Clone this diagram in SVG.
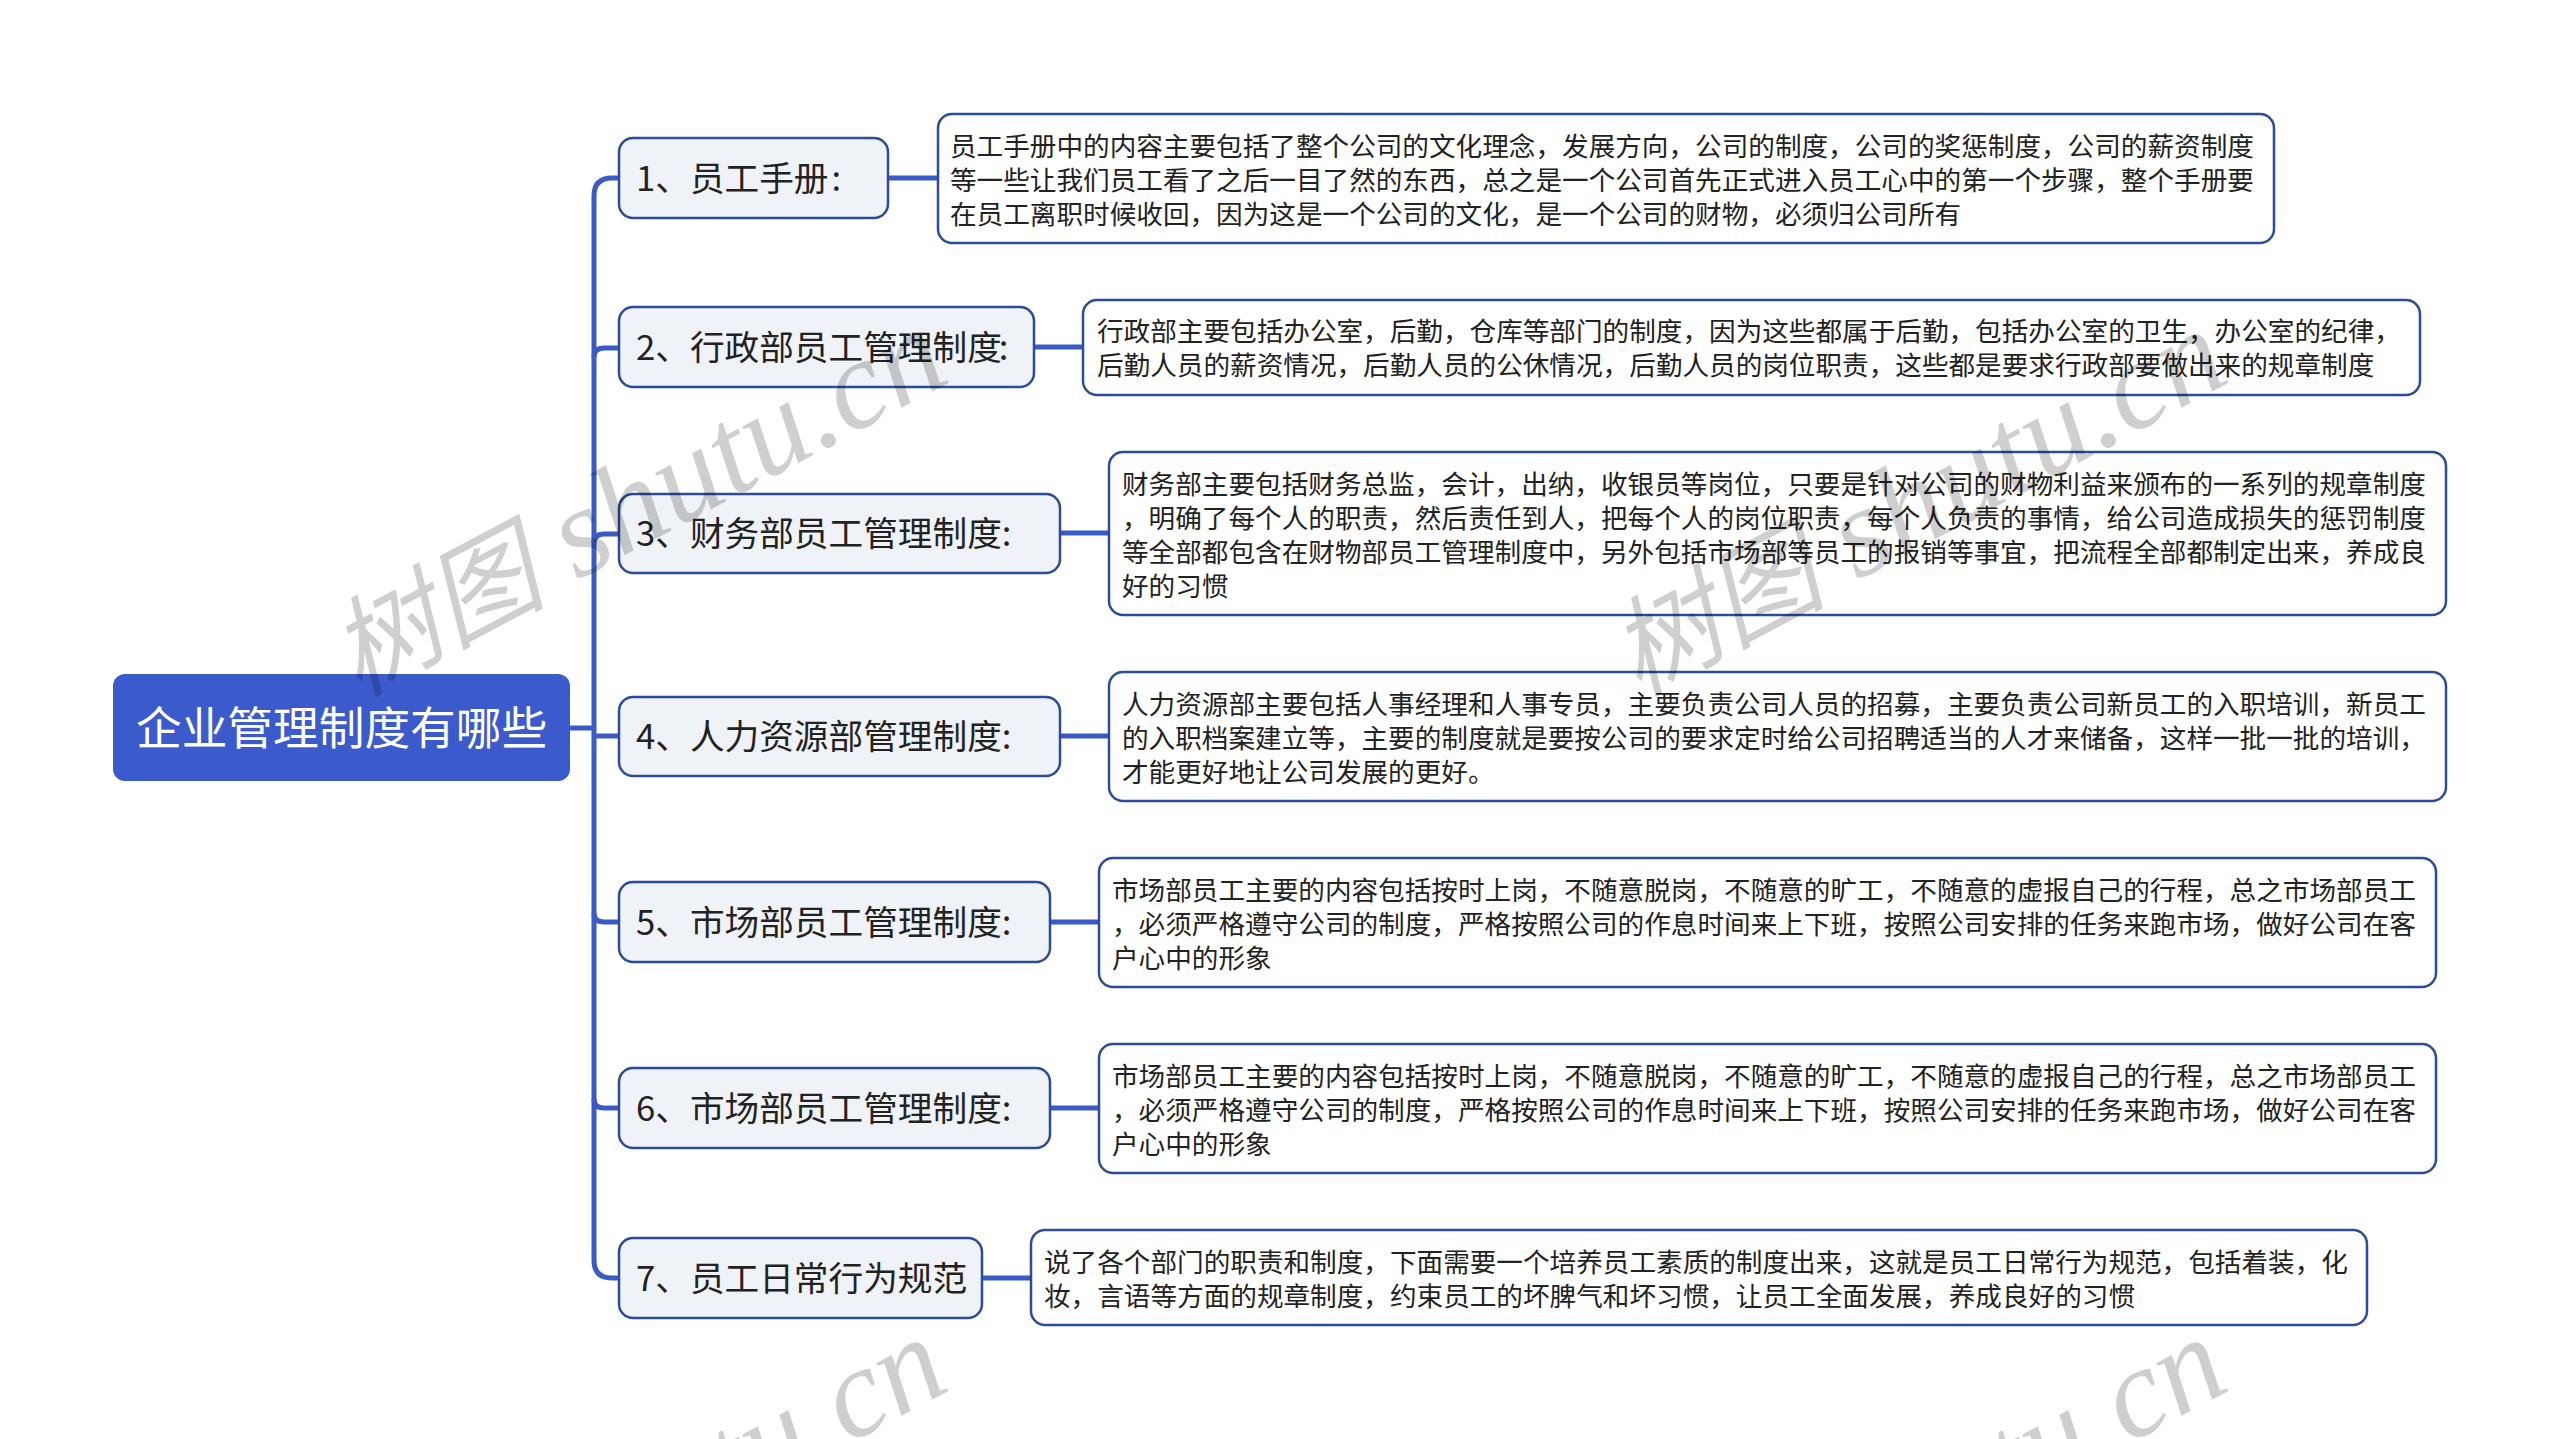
<svg xmlns="http://www.w3.org/2000/svg" width="2560" height="1439" viewBox="0 0 2560 1439">
<style>
text{font-family:"Noto Sans CJK SC","Liberation Sans",sans-serif;fill:#222;}
.wm{font-family:"Liberation Serif","Noto Sans CJK SC",serif;font-style:italic;font-size:127px;fill:#000;fill-opacity:.19;}
.wm .cjk{font-size:108px;}
.l1{fill:#eff2f6;stroke:#2b4c9b;stroke-width:2.5;}
.d{fill:#fff;stroke:#2b4c9b;stroke-width:2.5;}
.t1{font-size:34.67px;}
.t2{font-size:26.62px;}
.c{fill:none;stroke:#3a5bc7;stroke-width:5;}
</style>
<rect width="2560" height="1439" fill="#fff"/>
<g id="connectors">
<path class="c" d="M570 728H594"/>
<path class="c" d="M620 178H612Q594 178 594 196V1260Q594 1278 612 1278H620"/>
<path class="c" d="M594 357Q594 348 604 348H620"/>
<path class="c" d="M594 543Q594 534 604 534H620"/>
<path class="c" d="M594 736H620"/>
<path class="c" d="M594 913Q594 922 604 922H620"/>
<path class="c" d="M594 1099Q594 1108 604 1108H620"/>
<path class="c" d="M888 178H938"/>
<path class="c" d="M1034 347H1083"/>
<path class="c" d="M1060 533H1109"/>
<path class="c" d="M1060 736H1109"/>
<path class="c" d="M1050 922H1099"/>
<path class="c" d="M1050 1108H1099"/>
<path class="c" d="M982 1278H1031"/>
</g>
<g id="root"><rect x="113" y="674" width="457" height="107" rx="12" fill="#3b5bcc"/><text x="136" y="745" font-size="45.7" style="fill:#fff">企业管理制度有哪些</text></g>
<g id="n1"><rect class="l1" x="619" y="138" width="269" height="80" rx="14"/><text class="t1" x="636" y="191">1、员工手册<tspan dx="3">:</tspan></text></g>
<g id="n2"><rect class="l1" x="619" y="307" width="415" height="80" rx="14"/><text class="t1" x="636" y="360">2、行政部员工管理制度<tspan dx="-3">:</tspan></text></g>
<g id="n3"><rect class="l1" x="619" y="494" width="441" height="79" rx="14"/><text class="t1" x="636" y="546">3、财务部员工管理制度:</text></g>
<g id="n4"><rect class="l1" x="619" y="697" width="441" height="79" rx="14"/><text class="t1" x="636" y="749">4、人力资源部管理制度:</text></g>
<g id="n5"><rect class="l1" x="619" y="882" width="431" height="80" rx="14"/><text class="t1" x="636" y="935">5、市场部员工管理制度:</text></g>
<g id="n6"><rect class="l1" x="619" y="1068" width="431" height="80" rx="14"/><text class="t1" x="636" y="1121">6、市场部员工管理制度:</text></g>
<g id="n7"><rect class="l1" x="619" y="1238" width="363" height="80" rx="14"/><text class="t1" x="636" y="1291">7、员工日常行为规范</text></g>
<g id="d1"><rect class="d" x="938" y="114" width="1336" height="129" rx="14"/>
<text class="t2" x="950" y="155.5">员工手册中的内容主要包括了整个公司的文化理念，发展方向，公司的制度，公司的奖惩制度，公司的薪资制度</text>
<text class="t2" x="950" y="189.5">等一些让我们员工看了之后一目了然的东西，总之是一个公司首先正式进入员工心中的第一个步骤，整个手册要</text>
<text class="t2" x="950" y="223.5">在员工离职时候收回，因为这是一个公司的文化，是一个公司的财物，必须归公司所有</text></g>
<g id="d2"><rect class="d" x="1083" y="300" width="1337" height="95" rx="14"/>
<text class="t2" x="1097" y="340.5">行政部主要包括办公室，后勤，仓库等部门的制度，因为这些都属于后勤，包括办公室的卫生，办公室的纪律，</text>
<text class="t2" x="1097" y="375">后勤人员的薪资情况，后勤人员的公休情况，后勤人员的岗位职责，这些都是要求行政部要做出来的规章制度</text></g>
<g id="d3"><rect class="d" x="1109" y="452" width="1337" height="163" rx="14"/>
<text class="t2" x="1122" y="493.5">财务部主要包括财务总监，会计，出纳，收银员等岗位，只要是针对公司的财物利益来颁布的一系列的规章制度</text>
<text class="t2" x="1122" y="527.5">，明确了每个人的职责，然后责任到人，把每个人的岗位职责，每个人负责的事情，给公司造成损失的惩罚制度</text>
<text class="t2" x="1122" y="561.5">等全部都包含在财物部员工管理制度中，另外包括市场部等员工的报销等事宜，把流程全部都制定出来，养成良</text>
<text class="t2" x="1122" y="595.5">好的习惯</text></g>
<g id="d4"><rect class="d" x="1109" y="672" width="1337" height="129" rx="14"/>
<text class="t2" x="1122" y="713.5">人力资源部主要包括人事经理和人事专员，主要负责公司人员的招募，主要负责公司新员工的入职培训，新员工</text>
<text class="t2" x="1122" y="747.5">的入职档案建立等，主要的制度就是要按公司的要求定时给公司招聘适当的人才来储备，这样一批一批的培训，</text>
<text class="t2" x="1122" y="781.5">才能更好地让公司发展的更好。</text></g>
<g id="d5"><rect class="d" x="1099" y="858" width="1337" height="129" rx="14"/>
<text class="t2" x="1112" y="899.5">市场部员工主要的内容包括按时上岗，不随意脱岗，不随意的旷工，不随意的虚报自己的行程，总之市场部员工</text>
<text class="t2" x="1112" y="933.5">，必须严格遵守公司的制度，严格按照公司的作息时间来上下班，按照公司安排的任务来跑市场，做好公司在客</text>
<text class="t2" x="1112" y="967.5">户心中的形象</text></g>
<g id="d6"><rect class="d" x="1099" y="1044" width="1337" height="129" rx="14"/>
<text class="t2" x="1112" y="1085.5">市场部员工主要的内容包括按时上岗，不随意脱岗，不随意的旷工，不随意的虚报自己的行程，总之市场部员工</text>
<text class="t2" x="1112" y="1119.5">，必须严格遵守公司的制度，严格按照公司的作息时间来上下班，按照公司安排的任务来跑市场，做好公司在客</text>
<text class="t2" x="1112" y="1153.5">户心中的形象</text></g>
<g id="d7"><rect class="d" x="1031" y="1230" width="1336" height="95" rx="14"/>
<text class="t2" x="1044" y="1271.5">说了各个部门的职责和制度，下面需要一个培养员工素质的制度出来，这就是员工日常行为规范，包括着装，化</text>
<text class="t2" x="1044" y="1305.5">妆，言语等方面的规章制度，约束员工的坏脾气和坏习惯，让员工全面发展，养成良好的习惯</text></g>
<g id="watermark">
<text class="wm" transform="translate(358 697) rotate(-28)"><tspan class="cjk">树图</tspan> shutu.cn</text>
<text class="wm" transform="translate(1638 697) rotate(-28)"><tspan class="cjk">树图</tspan> shutu.cn</text>
<text class="wm" transform="translate(358 1705) rotate(-28)"><tspan class="cjk">树图</tspan> shutu.cn</text>
<text class="wm" transform="translate(1638 1705) rotate(-28)"><tspan class="cjk">树图</tspan> shutu.cn</text>
</g>
</svg>
